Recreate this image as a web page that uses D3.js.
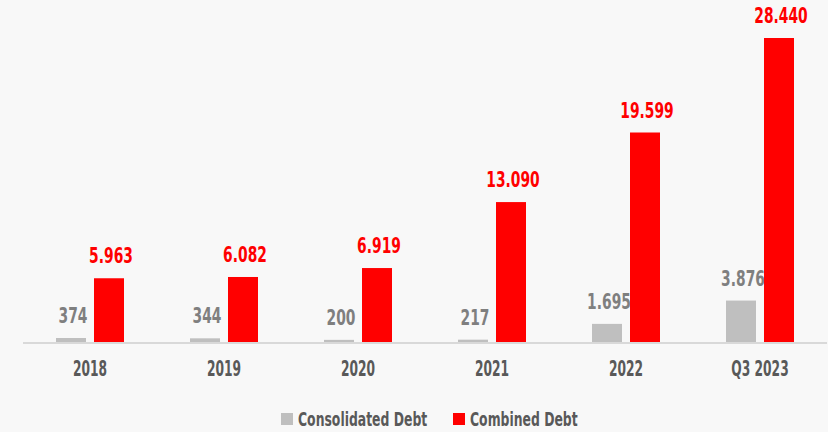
<!DOCTYPE html>
<html>
<head>
<meta charset="utf-8">
<script src="https://cdn.jsdelivr.net/npm/d3@7"></script>
<style>
  body { margin: 0; background: #f8f8f8; }
  svg text { font-family: "DejaVu Sans Condensed", "DejaVu Sans", sans-serif; font-weight: bold; }
</style>
</head>
<body>
<script>
// data
var categories = ['2018', '2019', '2020', '2021', '2022', 'Q3 2023'];
var consolidated = [374, 344, 200, 217, 1695, 3876];
var combined = [5963, 6082, 6919, 13090, 19599, 28440];
var seriesNames = ['Consolidated Debt', 'Combined Debt'];
var colors = ['#bfbfbf', '#ff0000'];

var width = 828, height = 432;
var baseY = 342;

var svg = d3.select('body').append('svg')
	.attr('width', width)
	.attr('height', height);

svg.append('rect').attr('width', width).attr('height', height).attr('fill', '#f8f8f8');

var x = d3.scaleBand().domain(categories).range([23, 827]);
var y = d3.scaleLinear().domain([0, 28440]).range([baseY, 38]);

var fmt = function(v) { return d3.format(',')(v).replace(',', '.'); };

var data = categories.map(function(c, i) {
	return { cat: c, vals: [consolidated[i], combined[i]] };
});

var barW = 30, gap = 8;

var groups = svg.selectAll('.grp').data(data).enter().append('g')
	.attr('class', 'grp')
	.attr('transform', function(d) { return `translate(${x(d.cat) + x.bandwidth() / 2}, 0)`; });

[0, 1].forEach(function(s) {
	var off = s === 0 ? -gap / 2 - barW : gap / 2;
	groups.append('rect')
		.attr('x', off)
		.attr('y', function(d) { return y(d.vals[s]); })
		.attr('width', barW)
		.attr('height', function(d) { return baseY - y(d.vals[s]); })
		.attr('fill', colors[s]);

	// squeezed text to mimic the narrow display face
	groups.append('text')
		.attr('transform', function(d) {
			return `translate(${off + barW / 2 + 2}, ${y(d.vals[s]) - 15}) scale(0.7, 1)`;
		})
		.attr('text-anchor', 'middle')
		.attr('font-size', 22)
		.attr('fill', s === 0 ? '#7f7f7f' : '#ff0000')
		.text(function(d) { return fmt(d.vals[s]); });
});

// baseline
svg.append('line')
	.attr('x1', 23).attr('x2', 827)
	.attr('y1', baseY + 1).attr('y2', baseY + 1)
	.attr('stroke', '#d9d9d9')
	.attr('stroke-width', 2);

// category labels
var xAxis = svg.append('g')
	.attr('transform', `translate(0, ${baseY + 1})`)
	.call(d3.axisBottom(x).tickSize(0).tickPadding(17));
xAxis.select('.domain').remove();
xAxis.selectAll('text')
	.attr('font-size', 22)
	.attr('fill', '#595959')
	.attr('dy', '0.71em')
	.attr('transform', 'scale(0.62, 1)');

// legend
var legend = svg.append('g').attr('transform', 'translate(281, 413)');
var legX = [0, 172];
seriesNames.forEach(function(name, i) {
	var lg = legend.append('g').attr('transform', `translate(${legX[i]}, 0)`);
	lg.append('rect').attr('width', 12).attr('height', 12).attr('fill', colors[i]);
	lg.append('text')
		.attr('transform', 'translate(17, 12.5) scale(0.69, 1)')
		.attr('font-size', 20)
		.attr('fill', '#595959')
		.text(name);
});
</script>
</body>
</html>
